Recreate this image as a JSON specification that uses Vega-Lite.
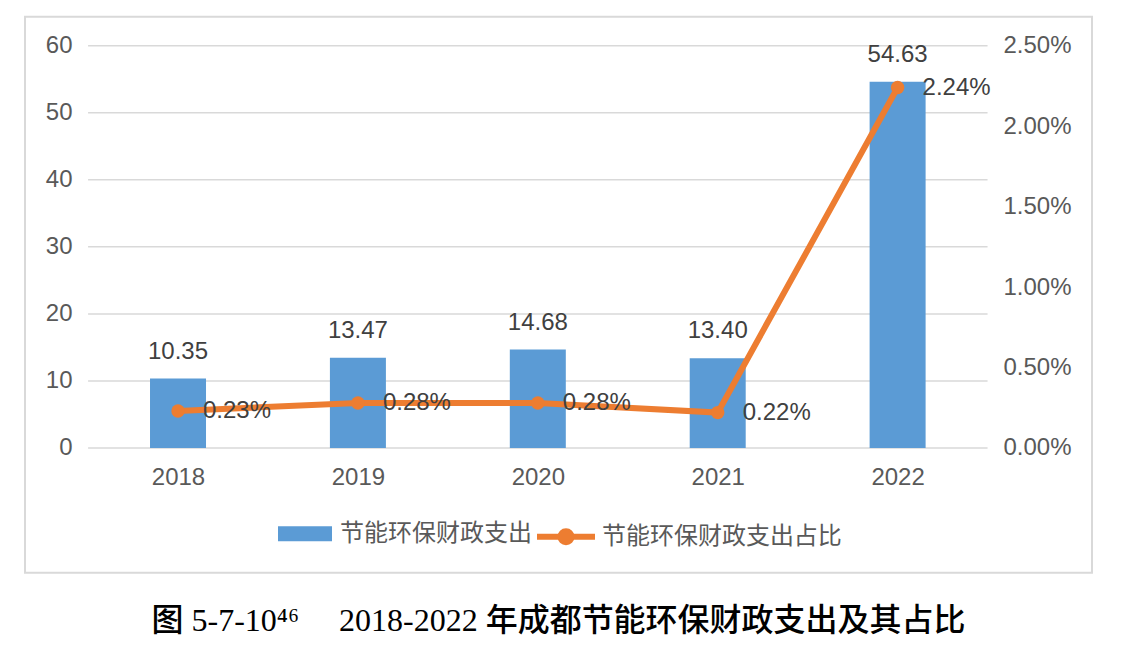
{
  "$schema": "https://vega.github.io/schema/vega-lite/v6.json",
  "width": 1067,
  "height": 556,
  "padding": {"left": 25, "top": 16.7, "right": 5, "bottom": 5},
  "background": "white",
  "title": {
    "text": "图\u00a05-7-10⁴⁶\u00a0\u00a0\u00a0\u00a0\u00a02018-2022\u00a0年成都节能环保财政支出及其占比",
    "orient": "bottom",
    "anchor": "middle",
    "font": "Liberation Serif, Noto Sans CJK SC",
    "fontSize": 32,
    "fontWeight": 500,
    "color": "#000000",
    "offset": 33
  },
  "data": {
    "values": [
      {"year": 2018, "value": 10.35, "pct": 0.0023},
      {"year": 2019, "value": 13.47, "pct": 0.0028},
      {"year": 2020, "value": 14.68, "pct": 0.0028},
      {"year": 2021, "value": 13.40, "pct": 0.0022},
      {"year": 2022, "value": 54.63, "pct": 0.0224}
    ]
  },
  "layer": [
    {
      "layer": [
        {
          "data": {"values": [{"g": 0}, {"g": 10}, {"g": 20}, {"g": 30}, {"g": 40}, {"g": 50}, {"g": 60}]},
          "mark": {"type": "rule", "color": "#D9D9D9", "strokeWidth": 1.5},
          "encoding": {
            "y": {
              "field": "g",
              "type": "quantitative",
              "scale": {"domain": [-18.598, 64.325], "nice": false, "zero": false},
              "axis": {
                "orient": "left",
                "offset": -63,
                "values": [0, 10, 20, 30, 40, 50, 60],
                "domain": false,
                "ticks": false,
                "tickSize": 0,
                "grid": false,
                "labelPadding": 16,
                "labelFontSize": 24,
                "labelFont": "Liberation Sans",
                "labelColor": "#595959",
                "title": null
              }
            },
            "x": {
              "datum": 2017.5,
              "type": "quantitative",
              "scale": {"domain": [2017.1495, 2023.0805], "nice": false, "zero": false, "padding": 0},
              "axis": {
                "orient": "bottom",
                "offset": -124.7,
                "values": [2018, 2019, 2020, 2021, 2022],
                "format": "d",
                "domain": false,
                "ticks": false,
                "tickSize": 0,
                "grid": false,
                "labelPadding": 18,
                "labelFontSize": 24,
                "labelFont": "Liberation Sans",
                "labelColor": "#595959",
                "title": null
              }
            },
            "x2": {"datum": 2022.5}
          }
        },
        {
          "mark": {"type": "bar", "size": 56},
          "encoding": {
            "x": {"field": "year", "type": "quantitative"},
            "y": {"field": "value", "type": "quantitative"},
            "fill": {
              "datum": "节能环保财政支出",
              "type": "nominal",
              "scale": {"domain": ["节能环保财政支出"], "range": ["#5B9BD5"]},
              "legend": {
                "orient": "none",
                "legendX": 253,
                "legendY": 490,
                "title": null,
                "padding": 0,
                "symbolType": "M-1,-0.278H1V0.278H-1Z",
                "symbolSize": 2916,
                "symbolStrokeWidth": 0,
                "labelFontSize": 24,
                "labelFont": "Noto Sans CJK SC",
                "labelColor": "#595959",
                "labelOffset": 8,
                "labelLimit": 600
              }
            }
          }
        },
        {
          "mark": {"type": "text", "baseline": "alphabetic", "dy": -20, "fontSize": 24, "font": "Liberation Sans", "color": "#404040"},
          "encoding": {
            "x": {"field": "year", "type": "quantitative"},
            "y": {"field": "value", "type": "quantitative"},
            "text": {"field": "value", "type": "quantitative", "format": ".2f"}
          }
        }
      ]
    },
    {
      "layer": [
        {
          "mark": {"type": "line", "strokeWidth": 6},
          "encoding": {
            "x": {"field": "year", "type": "quantitative"},
            "y": {
              "field": "pct",
              "type": "quantitative",
              "scale": {"domain": [-0.0077492, 0.0268021], "nice": false, "zero": false},
              "axis": {
                "orient": "right",
                "offset": -104,
                "values": [0, 0.005, 0.01, 0.015, 0.02, 0.025],
                "format": ".2%",
                "domain": false,
                "ticks": false,
                "tickSize": 0,
                "grid": false,
                "labelPadding": 15,
                "labelFontSize": 24,
                "labelFont": "Liberation Sans",
                "labelColor": "#595959",
                "title": null
              }
            },
            "stroke": {
              "datum": "节能环保财政支出占比",
              "type": "nominal",
              "scale": {"domain": ["节能环保财政支出占比"], "range": ["#ED7D31"]},
              "legend": {
                "orient": "none",
                "legendX": 509,
                "legendY": 488,
                "title": null,
                "padding": 0,
                "symbolType": "M-1,0H1M0.19,0A0.19,0.19 0 1,1 -0.19,0A0.19,0.19 0 1,1 0.19,0Z",
                "symbolSize": 3364,
                "symbolStrokeWidth": 6,
                "symbolFillColor": "#ED7D31",
                "labelFontSize": 24,
                "labelFont": "Noto Sans CJK SC",
                "labelColor": "#595959",
                "labelOffset": 4,
                "labelLimit": 600,
                "encode": {"symbols": {"update": {"fill": {"value": "#ED7D31"}, "stroke": {"value": "#ED7D31"}, "strokeWidth": {"value": 6}}}}
              }
            }
          }
        },
        {
          "mark": {"type": "point", "filled": true, "size": 180, "color": "#ED7D31", "opacity": 1},
          "encoding": {
            "x": {"field": "year", "type": "quantitative"},
            "y": {"field": "pct", "type": "quantitative"}
          }
        },
        {
          "mark": {"type": "text", "align": "left", "baseline": "middle", "dx": 25, "fontSize": 24, "font": "Liberation Sans", "color": "#404040"},
          "encoding": {
            "x": {"field": "year", "type": "quantitative"},
            "y": {"field": "pct", "type": "quantitative"},
            "text": {"field": "pct", "type": "quantitative", "format": ".2%"}
          }
        }
      ]
    }
  ],
  "resolve": {"scale": {"y": "independent"}, "axis": {"y": "independent"}},
  "config": {
    "view": {"stroke": "#D9D9D9", "strokeWidth": 2}
  }
}
